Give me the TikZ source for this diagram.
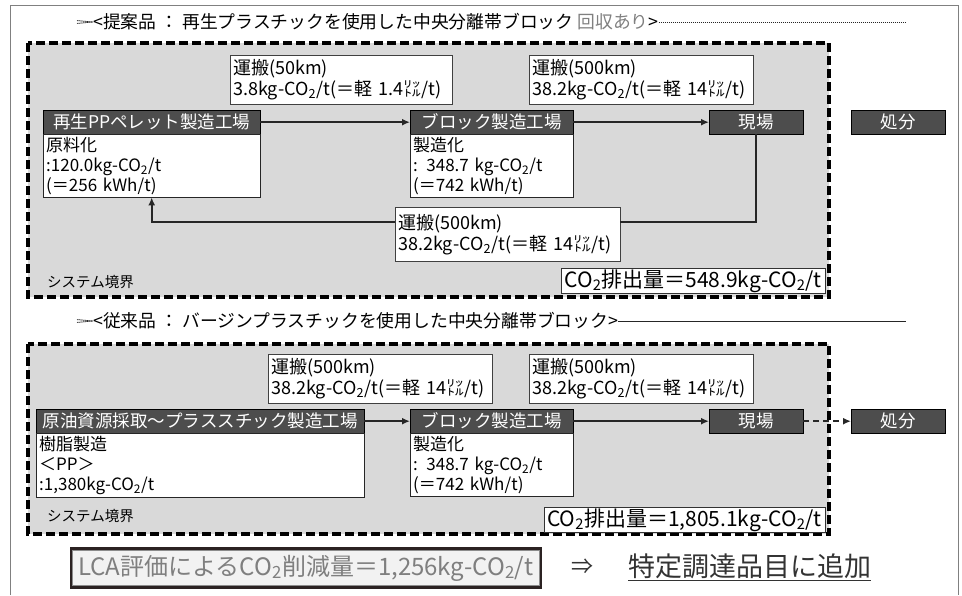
\documentclass[tikz,border=0pt]{standalone}
\usepackage{fontspec}
\setmainfont{Noto Sans CJK JP}
\usetikzlibrary{arrows.meta,positioning}
\definecolor{kyokaiHai}{HTML}{D9D9D9}
\definecolor{kojoSumi}{HTML}{4D4D4D}
\definecolor{wakuHai}{HTML}{808080}
\definecolor{lcaWaku}{HTML}{2B2222}
\definecolor{lcaMoji}{HTML}{7F7F7F}
\newcommand{\COt}{CO\textsubscript{2}}

\begin{document}
\begin{tikzpicture}[x=1pt,y=-1pt,
  kyokai/.style={draw=black,fill=kyokaiHai,line width=3.5pt,dash pattern=on 9pt off 4pt},
  kojo/.style={draw=black,fill=kojoSumi,text=white,font=\fontsize{17.5}{20}\selectfont,
    anchor=north west,minimum height=24pt,inner sep=0pt},
  naiyo/.style={draw=black!85,fill=white,anchor=north west,align=left,
    font=\fontsize{17}{20}\selectfont,inner xsep=3pt,inner ysep=2.5pt},
  unpan/.style={draw=black!75,fill=white,anchor=north west,align=left,
    font=\fontsize{18}{21}\selectfont,inner xsep=3pt,inner ysep=3pt},
  midashi/.style={anchor=west,font=\fontsize{17.8}{20}\selectfont,inner sep=0pt},
  nijusen/.style={draw=black!85,line width=0.75pt,dash pattern=on 1.5pt off 0.5pt},
  kyokaimei/.style={anchor=west,font=\fontsize{14.5}{16}\selectfont,inner sep=0pt},
  haishutsu/.style={draw=black!80,fill=white,anchor=east,font=\fontsize{21}{23}\selectfont,
    inner xsep=3pt,inner ysep=1pt},
  sen/.style={line width=1.8pt,draw=black!85},
  ya/.style={sen,-{Latex[length=8pt,width=7pt]}}]
  \useasboundingbox (0,0) rectangle (962,595);
  % Waku no sen (shita wa hiraite iru)
  \draw[wakuHai,line width=1pt] (10,595) -- (10,5) -- (958,5) -- (958,595);

  % ===== Teianhin =====
  \node[midashi] (midashiA) at (93,22)
    {<提案品 ： 再生プラスチックを使用した中央分離帯ブロック {\color{black!50}回収あり}>};
  \coordinate (hashiA) at (906,22);
  \foreach \dy in {-1.4,1.4}{
    \draw[nijusen,yshift=\dy pt] (77,22) -- (midashiA.west);
    \draw[nijusen,yshift=\dy pt] (midashiA.east) -- (hashiA);
  }
  \draw[kyokai] (28,43) rectangle (829,297);

  \node[unpan,text width=216pt,minimum height=49pt] (unpanA) at (230,55)
    {運搬(50km)\\3.8kg-\COt/t(＝軽 1.4㍑/t)};
  \node[unpan,text width=218pt,minimum height=49pt] (unpanB) at (529,55)
    {運搬(500km)\\38.2kg-\COt/t(＝軽 14㍑/t)};

  \node[kojo,minimum width=217pt] (ppKojo) at (43,110) {再生PPペレット製造工場};
  \node[naiyo,text width=211pt] (ppNaiyo) at (ppKojo.south west)
    {原料化\\:120.0kg-\COt/t\\(＝256 kWh/t)};
  \node[kojo,minimum width=163pt] (blockA) at (410,110) {ブロック製造工場};
  \node[naiyo,text width=157pt] (blockANaiyo) at (blockA.south west)
    {製造化\\: 348.7 kg-\COt/t\\(＝742 kWh/t)};
  \node[kojo,minimum width=94pt] (genbaA) at (709,110) {現場};
  \node[kojo,minimum width=94pt] (shobunA) at (851,110) {処分};

  \node[unpan,text width=219pt,minimum height=54pt] (unpanC) at (395,207)
    {運搬(500km)\\38.2kg-\COt/t(＝軽 14㍑/t)};

  \draw[ya] (ppKojo) -- (blockA);
  \draw[ya] (blockA) -- (genbaA);
  \draw[sen] (genbaA.south) |- ([yshift=12pt]unpanC.east);
  \draw[ya] ([yshift=12pt]unpanC.west) -| (ppNaiyo.south);

  \node[kyokaimei] (kyokaiA) at (47,282) {システム境界};
  \node[haishutsu] (haishutsuA) at (825,281) {\COt 排出量＝548.9kg-\COt/t};

  % ===== Juraihin =====
  \node[midashi] (midashiB) at (93,321)
    {<従来品 ： バージンプラスチックを使用した中央分離帯ブロック>};
  \coordinate (hashiB) at (906,321);
  \foreach \dy in {-1.4,1.4}{
    \draw[nijusen,yshift=\dy pt] (77,321) -- (midashiB.west);
    \draw[nijusen,yshift=\dy pt] (midashiB.east) -- (hashiB);
  }
  \draw[kyokai] (28,344) rectangle (829,534);

  \node[unpan,text width=218pt,minimum height=49pt] (unpanD) at (268,354)
    {運搬(500km)\\38.2kg-\COt/t(＝軽 14㍑/t)};
  \node[unpan,text width=218pt,minimum height=49pt] (unpanE) at (529,354)
    {運搬(500km)\\38.2kg-\COt/t(＝軽 14㍑/t)};

  \node[kojo,minimum width=328pt] (genyu) at (36,409) {原油資源採取～プラススチック製造工場};
  \node[naiyo,text width=322pt] (genyuNaiyo) at (genyu.south west)
    {樹脂製造\\＜PP＞\\:1,380kg-\COt/t};
  \node[kojo,minimum width=163pt] (blockB) at (410,409) {ブロック製造工場};
  \node[naiyo,text width=157pt] (blockBNaiyo) at (blockB.south west)
    {製造化\\: 348.7 kg-\COt/t\\(＝742 kWh/t)};
  \node[kojo,minimum width=94pt] (genbaB) at (709,409) {現場};
  \node[kojo,minimum width=94pt] (shobunB) at (851,409) {処分};

  \draw[ya] (genyu) -- (blockB);
  \draw[ya] (blockB) -- (genbaB);
  \draw[ya,dash pattern=on 6pt off 4pt] (genbaB) -- (shobunB);

  \node[kyokaimei] (kyokaiB) at (47,516) {システム境界};
  \node[haishutsu] (haishutsuB) at (825,520) {\COt 排出量＝1,805.1kg-\COt/t};

  % ===== Kekka =====
  \node[draw=lcaWaku,line width=3.5pt,fill=black!5,text=lcaMoji,minimum width=469pt,
    minimum height=38pt,font=\fontsize{24}{26}\selectfont,inner sep=0pt] (lca) at (306,568)
    {LCA評価による\COt 削減量＝1,256kg-\COt/t};
  \draw[black!45,line width=0.8pt] ([xshift=3pt,yshift=-3pt]lca.north west)
    rectangle ([xshift=-3pt,yshift=3pt]lca.south east);
  \node[font=\fontsize{22}{24}\selectfont,text=black!80] (yajirushi) at (582,567) {⇒};
  \node[font=\fontsize{27}{29}\selectfont,text=black!80,anchor=west,inner sep=0pt] (tsuika)
    at (628,567) {\underline{特定調達品目に追加}};
\end{tikzpicture}
\end{document}
